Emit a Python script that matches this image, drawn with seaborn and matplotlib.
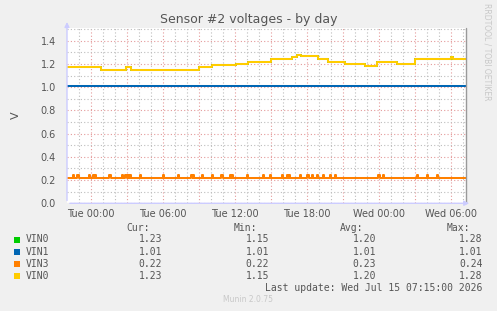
import matplotlib
matplotlib.use("Agg")
import matplotlib.pyplot as plt
import seaborn as sns
import numpy as np
import pandas as pd

# ---- data (hours relative to Tue 00:00) ----
x_start, x_end = -1.97, 31.27
vin0_change_hours = [-1.97, 0.83, 2.92, 3.36, 9.03, 10.1, 12.08, 13.08, 15.03, 16.75,
                     17.17, 17.53, 18.97, 19.75, 21.19, 22.86, 23.83, 25.5, 27.03, 30.0, 30.17, 31.27]
vin0_values = [1.17, 1.15, 1.17, 1.15, 1.17, 1.19, 1.20, 1.22, 1.24, 1.26,
               1.28, 1.27, 1.24, 1.22, 1.20, 1.18, 1.22, 1.20, 1.24, 1.26, 1.24, 1.24]
vin1_value = 1.01
vin3_base = 0.22
vin3_peak = 0.24
vin3_blip_hours = [-1.45, -1.1, -0.12, 0.22, 0.36, 1.57, 2.6, 2.9, 3.1, 3.25, 4.1, 6.0, 7.28,
                   8.4, 8.55, 9.25, 10.13, 10.9, 11.6, 11.75, 13.0, 14.33, 14.94, 15.92,
                   16.35, 16.5, 17.44, 18.05, 18.42, 18.88, 19.38, 19.94, 20.36,
                   23.97, 24.38, 27.2, 28.0, 28.83]
tick_hours = [0, 6, 12, 18, 24, 30]
tick_labels = ["Tue 00:00", "Tue 06:00", "Tue 12:00", "Tue 18:00", "Wed 00:00", "Wed 06:00"]
legend_names = ["VIN0", "VIN1", "VIN3", "VIN0"]
legend_colors = ["#00cc00", "#0066b3", "#ff8000", "#ffcc00"]
cur_vals = ["1.23", "1.01", "0.22", "1.23"]
min_vals = ["1.15", "1.01", "0.22", "1.15"]
avg_vals = ["1.20", "1.01", "0.23", "1.20"]
max_vals = ["1.28", "1.01", "0.24", "1.28"]

# build step series
blip_w = 0.1
t3, v3 = [x_start], [vin3_base]
for b in vin3_blip_hours:
    t3 += [b, b + blip_w]
    v3 += [vin3_peak, vin3_base]
t3.append(x_end); v3.append(vin3_base)
df0 = pd.DataFrame({"t": vin0_change_hours, "v": vin0_values})
df1 = pd.DataFrame({"t": [x_start, x_end], "v": [vin1_value, vin1_value]})
df3 = pd.DataFrame({"t": t3, "v": v3})

sns.set_style("white")
plt.rcParams["font.family"] = ["DejaVu Sans"]

W, H = 497, 311
fig = plt.figure(figsize=(W / 100, H / 100), dpi=100, facecolor="#f0f0f0")
L, R, T, B = 67, 466, 28, 203.3
ax = fig.add_axes([L / W, 1 - B / H, (R - L) / W, (B - T) / H])
ax.set_facecolor("white")

ax.set_xlim(x_start, x_end)
ax.set_ylim(0, 1.51)

# grid
ax.set_xticks(np.arange(0, 31, 3))
ax.set_xticklabels([tick_labels[tick_hours.index(h)] if h in tick_hours else "" for h in np.arange(0, 31, 3)])
ax.set_xticks(np.arange(-1, 32, 1), minor=True)
ax.set_yticks(np.arange(0, 1.41, 0.2))
ax.set_yticklabels([f"{v:.1f}" for v in np.arange(0, 1.41, 0.2)])
ax.set_yticks(np.arange(0.1, 1.51, 0.1), minor=True)
ax.grid(which="minor", color="#bdbdbd", linestyle=(0, (1, 2)), linewidth=0.8)
ax.grid(which="major", color="#e49a9a", linestyle=(0, (1, 2)), linewidth=0.8)
ax.set_axisbelow(True)
ax.tick_params(which="both", length=0, labelsize=7, colors="#555555", pad=4)
ax.tick_params(axis="y", pad=8)
for s in ax.spines.values():
    s.set_visible(False)

# series
lw = 1.45
sns.lineplot(data=df0, x="t", y="v", ax=ax, color="#00cc00", lw=lw, drawstyle="steps-post", estimator=None)
sns.lineplot(data=df1, x="t", y="v", ax=ax, color="#0066b3", lw=lw, estimator=None)
sns.lineplot(data=df3, x="t", y="v", ax=ax, color="#ff8000", lw=lw, drawstyle="steps-post", estimator=None)
sns.lineplot(data=df0, x="t", y="v", ax=ax, color="#ffcc00", lw=lw, drawstyle="steps-post", estimator=None)
ax.set_xlabel("")
ax.set_ylabel("V", fontsize=8, color="#555555", labelpad=14)

# right border line
ax.plot([1, 1], [0, 1], transform=ax.transAxes, color="#999999", lw=1, clip_on=False)
# axis arrows
arrow_c = "#ccccff"
ax.annotate("", xy=(0, 1.05), xytext=(0, 0), xycoords="axes fraction",
            arrowprops=dict(arrowstyle="-|>", color=arrow_c, lw=1, mutation_scale=7))
ax.annotate("", xy=(1.015, 0), xytext=(0, 0), xycoords="axes fraction",
            arrowprops=dict(arrowstyle="-|>", color=arrow_c, lw=1, mutation_scale=7))

# title and side texts
fig.text(0.5, 1 - 19 / H, "Sensor #2 voltages - by day", ha="center", va="center",
         fontsize=9, color="#555555")
fig.text(487 / W, 1 - 52 / H, "RRDTOOL / TOBI OETIKER", rotation=270, ha="center", va="center",
         fontsize=5.5, color="#c8c8c8")

# legend
mono = "DejaVu Sans Mono"
fs = 7
tc = "#555555"
hy = 1 - 227.7 / H
for lbl, xe in zip(["Cur:", "Min:", "Avg:", "Max:"], [150, 257, 363.5, 470]):
    fig.text(xe / W, hy, lbl, ha="right", va="center", family=mono, fontsize=fs, color=tc)
rows_y = [239.5, 251.7, 263.7, 275.7]
for i, yy in enumerate(rows_y):
    yf = 1 - yy / H
    fig.patches.append(plt.Rectangle((14 / W, yf - 3 / H), 6 / W, 6 / H, transform=fig.transFigure,
                                     facecolor=legend_colors[i], edgecolor="none"))
    fig.text(26 / W, yf, legend_names[i], ha="left", va="center", family=mono, fontsize=fs, color=tc)
    for vals, xe in zip([cur_vals, min_vals, avg_vals, max_vals], [162.3, 269, 376, 482.7]):
        fig.text(xe / W, yf, vals[i], ha="right", va="center", family=mono, fontsize=fs, color=tc)
fig.text(482.7 / W, 1 - 287.7 / H, "Last update: Wed Jul 15 07:15:00 2026", ha="right", va="center",
         family=mono, fontsize=fs, color=tc)
fig.text(248 / W, 1 - 299.5 / H, "Munin 2.0.75", ha="center", va="center", fontsize=5.5, color="#c8c8c8")

fig.savefig("out.png", dpi=100, facecolor=fig.get_facecolor())
